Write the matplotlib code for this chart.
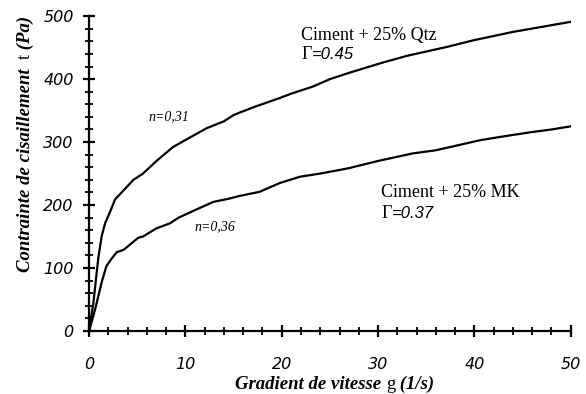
import matplotlib
matplotlib.use("Agg")
import matplotlib.pyplot as plt
from matplotlib.ticker import MultipleLocator

# shear rate (1/s) and shear stress (Pa)
qtz_x = [0, 0.45, 0.96, 1.3, 1.66, 2.2, 2.7, 3.5, 4.6, 5.6, 7.0, 8.7, 10.2, 12.2, 14.0, 15.0,
         17.0, 19.8, 21.0, 23.2, 25.0, 27.0, 30.2, 33.0, 37.1, 40.0, 44.0, 47.0, 50.0]
qtz_y = [0, 45, 116, 150, 171, 190, 209, 222, 240, 250, 270, 292, 305, 322, 333, 343,
         355, 370, 377, 388, 400, 410, 425, 437, 451, 462, 475, 483, 491]

mk_x = [0, 0.45, 0.8, 1.3, 1.8, 2.3, 2.86, 3.6, 5.1, 5.6, 7.0, 8.4, 9.3, 11.0, 12.9, 14.5,
        15.5, 17.7, 19.8, 21.9, 24.0, 26.8, 30.0, 33.6, 36.0, 40.6, 43.0, 46.0, 48.0, 50.0]
mk_y = [0, 24, 45, 77, 103, 114, 125, 129, 148, 150, 163, 171, 180, 192, 205, 210,
        214, 221, 235, 245, 250, 258, 270, 282, 287, 303, 309, 316, 320, 325]

x_ticks = [0, 10, 20, 30, 40, 50]
y_ticks = [0, 100, 200, 300, 400, 500]

SERIF = "Liberation Serif"
SANS = "Liberation Sans"

fig = plt.figure(figsize=(5.86, 3.94), dpi=100)
ax = fig.add_axes([0.152, 0.160, 0.822, 0.799])

ax.plot(qtz_x, qtz_y, color="black", linewidth=1.6)
ax.plot(mk_x, mk_y, color="black", linewidth=1.6)

ax.set_xlim(0, 50)
ax.set_ylim(0, 500)
ax.set_xticks(x_ticks)
ax.set_yticks(y_ticks)
ax.xaxis.set_minor_locator(MultipleLocator(2))
ax.yaxis.set_minor_locator(MultipleLocator(20))

for side in ["top", "right"]:
    ax.spines[side].set_visible(False)
for side in ["left", "bottom"]:
    ax.spines[side].set_linewidth(1.6)

ax.tick_params(which="major", direction="inout", length=8, width=1.6)
ax.tick_params(which="minor", direction="inout", length=5.5, width=1.3)
ax.tick_params(axis="x", which="major", pad=15)
ax.tick_params(axis="y", which="major", pad=7)
for lab in ax.get_xticklabels() + ax.get_yticklabels():
    lab.set_fontfamily("DejaVu Sans")
    lab.set_fontstyle("italic")
    lab.set_fontsize(11.5)

# annotations
ax.text(22.0, 462, "Ciment + 25% Qtz", family=SERIF, fontsize=13, va="baseline")
ax.text(22.0, 432, "\u0393", family=SERIF, fontsize=13, va="baseline")
ax.text(23.1, 432, "=0.45", family=SANS, style="italic", fontsize=12, va="baseline")
ax.text(30.35, 213, "Ciment + 25% MK", family=SERIF, fontsize=13, va="baseline")
ax.text(30.35, 179, "\u0393", family=SERIF, fontsize=13, va="baseline")
ax.text(31.45, 179, "=0.37", family=SANS, style="italic", fontsize=12, va="baseline")
ax.text(6.2, 335, "n=0,31", family=SERIF, style="italic", fontsize=10, va="baseline")
ax.text(10.9, 160, "n=0,36", family=SERIF, style="italic", fontsize=10, va="baseline")

fig.canvas.draw()
renderer = fig.canvas.get_renderer()


def place_pieces(pieces, x0, y0, vertical=False):
    # draw text pieces one after another from (x0, y0), in figure pixels
    pos = 0.0
    for text, kw in pieces:
        if vertical:
            xy = (x0, y0 + pos)
        else:
            xy = (x0 + pos, y0)
        t = fig.text(xy[0], xy[1], text, transform=None, rotation=90 if vertical else 0,
                     ha="left", va="baseline", rotation_mode="anchor", **kw)
        bb = t.get_window_extent(renderer)
        pos += bb.height if vertical else bb.width


bold_it = dict(family=SERIF, weight="bold", style="italic", fontsize=13.5)
plain = dict(family=SERIF, fontsize=13.5)
H = fig.bbox.height
place_pieces([("Gradient de vitesse ", bold_it), ("g", plain), (" (1/s)", bold_it)],
             235, H - 389)
place_pieces([("Contrainte de cisaillement  ", bold_it), ("t", plain), (" (Pa)", bold_it)],
             30, H - 272, vertical=True)

fig.savefig("out.png", dpi=100)
